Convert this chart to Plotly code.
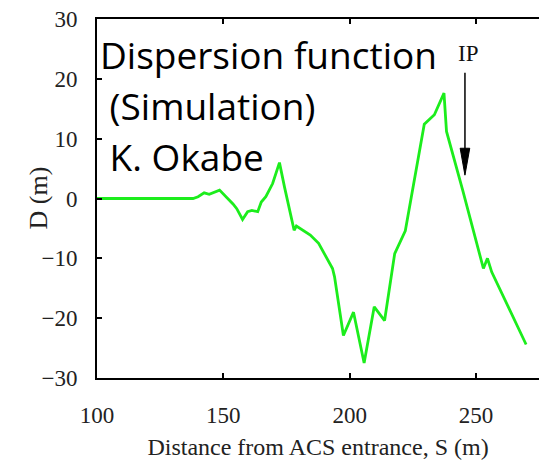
import plotly.graph_objects as go

# Data: distance S (m) and dispersion D (m)
S = [100, 138, 140, 142.4, 144.4, 148.5, 153.9, 155.3, 157.6, 159.6, 161.3, 163.6,
     165, 166.8, 169.5, 172.2, 174.2, 178, 178.9, 180.4, 184.4, 187.7, 189.8, 193.2,
     194, 197.5, 201.5, 205.7, 209.7, 213.8, 217.8, 222, 229.5, 233.5, 237.3, 238.3,
     244.7, 252.9, 254.5, 256.2, 269.8]
D = [0, 0, 0.3, 0.95, 0.7, 1.4, -0.95, -1.7, -3.5, -2.2, -2.0, -2.2,
     -0.6, 0.3, 2.5, 6.0, 1.9, -5.3, -4.6, -5.0, -6.1, -7.5, -9.2, -11.7,
     -13.1, -22.9, -19.0, -27.5, -18.1, -20.4, -9.2, -5.4, 12.4, 14.0, 17.6, 11.2,
     1.4, -11.7, -10.0, -12.3, -24.4]

X_TICKS = [100, 150, 200, 250]
Y_TICKS = [-30, -20, -10, 0, 10, 20, 30]

X_TITLE = "Distance from ACS entrance, S (m)"
Y_TITLE = "D (m)"
LABEL_LINES = ["Dispersion function", " (Simulation)", " K. Okabe"]
IP_LABEL = "IP"
IP_S = 245.6
IP_TOP = 21.0
IP_TIP = 3.9

fig = go.Figure()
fig.add_trace(go.Scatter(x=S, y=D, mode="lines",
                         line=dict(color="#1ced1c", width=2.8),
                         hoverinfo="skip", showlegend=False))

serif = "Liberation Serif"

# IP arrow (line + elongated arrowhead)
fig.add_shape(type="line", xref="x", yref="y", x0=IP_S, x1=IP_S, y0=IP_TOP, y1=IP_TIP + 3,
              line=dict(color="black", width=1.5))
fig.add_shape(type="path", xref="x", yref="y",
              path=f"M {IP_S-1.9},{IP_TIP+4.5} L {IP_S+1.9},{IP_TIP+4.5} L {IP_S},{IP_TIP} Z",
              fillcolor="black", line=dict(color="black", width=1))
fig.add_annotation(x=IP_S + 1.4, y=24.3, xref="x", yref="y", text=IP_LABEL, showarrow=False,
                   font=dict(family=serif, size=23, color="#111"))

for i, t in enumerate(LABEL_LINES):
    fig.add_annotation(xref="paper", yref="paper", x=0, y=1, xanchor="left", yanchor="middle",
                       xshift=1, yshift=-35 - 51 * i,
                       text=t.replace(" ", "&nbsp;", 1) if t.startswith(" ") else t,
                       showarrow=False,
                       font=dict(family="Open Sans", size=37, color="black"))

# y-axis title as rotated annotation
fig.add_annotation(xref="paper", yref="y", x=0, y=0, xanchor="center", yanchor="middle",
                   xshift=-59, textangle=-90, text=Y_TITLE, showarrow=False,
                   font=dict(family=serif, size=26, color="#222"))

fig.update_layout(
    width=539, height=470,
    margin=dict(l=97, r=0, t=19, b=92),
    plot_bgcolor="white", paper_bgcolor="white",
    xaxis=dict(range=[100, 274.9], tickvals=X_TICKS, ticks="inside", ticklen=5, tickwidth=1.5,
               tickcolor="black", showline=True, linecolor="black", linewidth=2,
               mirror="ticks", showgrid=False, zeroline=False,
               ticklabelstandoff=15,
               tickfont=dict(family=serif, size=23, color="#222"),
               title=dict(text=X_TITLE, standoff=12,
                          font=dict(family=serif, size=24, color="#222"))),
    yaxis=dict(range=[-30, 30], tickvals=Y_TICKS, ticks="inside", ticklen=5, tickwidth=1.5,
               tickcolor="black", showline=True, linecolor="black", linewidth=2,
               showgrid=False, zeroline=False, ticklabelstandoff=13,
               tickfont=dict(family=serif, size=23, color="#222")),
)

fig.write_html("out.html")
